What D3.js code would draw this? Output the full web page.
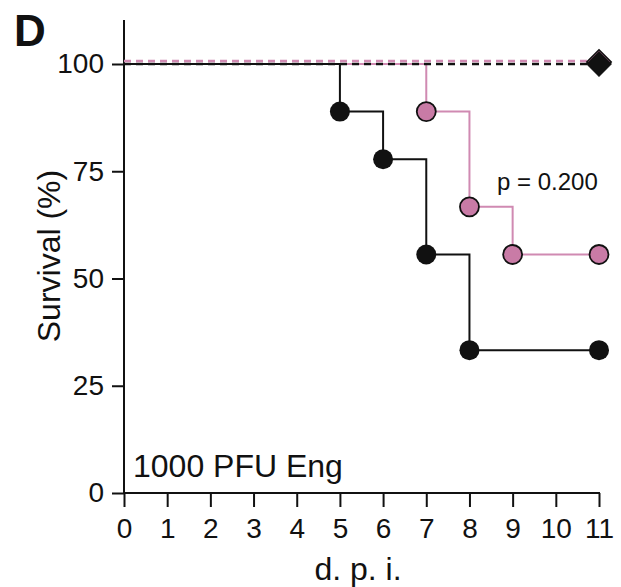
<!DOCTYPE html>
<html><head><meta charset="utf-8">
<script src="https://cdn.jsdelivr.net/npm/d3@7"></script>
<style>body{margin:0;background:#fff}text{font-family:"Liberation Sans",Arial,sans-serif;fill:#111}</style>
</head><body><svg id="c" width="621" height="587"></svg>
<script>
const xTicks = [0,1,2,3,4,5,6,7,8,9,10,11];
const yTicks = [0,25,50,75,100];
const infectedDays = [0,5,6,7,8,11];
const infectedSurv = [100,88.9,77.8,55.6,33.3,33.3];
const infectedMarks = [5,6,7,8,11];
const treatedDays = [0,7,8,9,11];
const treatedSurv = [100,88.9,66.7,55.6,55.6];
const treatedMarks = [7,8,9,11];
const mockDays = [0,11];
const mockSurv = [100,100];
const pinkC = "#c97ba6", pinkL = "#d08ab2", blackC = "#111";

const svg = d3.select("#c");
const x = d3.scaleLinear().domain([0,11]).range([124,599]);
const y = d3.scaleLinear().domain([0,100]).range([493,64]);

// axes
const xa = svg.append("g").attr("transform","translate(0,493)")
  .call(d3.axisBottom(x).tickValues(xTicks).tickSize(14).tickSizeOuter(0).tickPadding(11));
const ya = svg.append("g").attr("transform","translate(124,0)")
  .call(d3.axisLeft(y).tickValues(yTicks).tickSize(12).tickSizeOuter(0).tickPadding(8));
[xa,ya].forEach(a=>{a.select(".domain").remove();a.selectAll("line").attr("stroke",blackC).attr("stroke-width",2);
  a.selectAll("text").attr("font-size",28).attr("fill","#111");});
svg.append("line").attr("x1",124).attr("x2",124).attr("y1",20).attr("y2",494).attr("stroke",blackC).attr("stroke-width",2);
svg.append("line").attr("x1",123).attr("x2",600).attr("y1",493).attr("y2",493).attr("stroke",blackC).attr("stroke-width",2);

const step = d3.line().x(d=>x(d[0])).y(d=>y(d[1])).curve(d3.curveStepAfter);
const zip = (a,b)=>a.map((v,i)=>[v,b[i]]);

svg.append("path").attr("d",step(zip(treatedDays,treatedSurv))).attr("fill","none").attr("stroke",pinkL).attr("stroke-width",2);
svg.append("path").attr("d",step(zip(infectedDays,infectedSurv))).attr("fill","none").attr("stroke",blackC).attr("stroke-width",2);
svg.append("path").attr("d",step(zip(mockDays,mockSurv))).attr("fill","none").attr("stroke",blackC).attr("stroke-width",2.6).attr("stroke-dasharray","7,5");
svg.append("path").attr("transform","translate(0,-3)").attr("d",step(zip(mockDays,mockSurv))).attr("fill","none").attr("stroke",pinkL).attr("stroke-width",2.6).attr("stroke-dasharray","7,5");

// diamonds for mock
const dia = d3.symbol().type(d3.symbolSquare).size(300);
svg.append("path").attr("d",dia()).attr("transform",`translate(${x(11)},${y(100)-2}) rotate(45)`).attr("fill",pinkC).attr("stroke",blackC).attr("stroke-width",1.5);
svg.append("path").attr("d",dia()).attr("transform",`translate(${x(11)},${y(100)}) rotate(45)`).attr("fill",blackC).attr("stroke",blackC).attr("stroke-width",1);

const lookup = (days,surv,d)=>{let v=surv[0];days.forEach((dd,i)=>{if(dd<=d)v=surv[i];});return v;};
svg.selectAll(".bm").data(infectedMarks).enter().append("circle")
  .attr("cx",d=>x(d)).attr("cy",d=>y(lookup(infectedDays,infectedSurv,d))).attr("r",10).attr("fill",blackC);
svg.selectAll(".pm").data(treatedMarks).enter().append("circle")
  .attr("cx",d=>x(d)).attr("cy",d=>y(lookup(treatedDays,treatedSurv,d))).attr("r",9.5).attr("fill",pinkC).attr("stroke",blackC).attr("stroke-width",1.8);

// texts
svg.append("text").attr("x",14).attr("y",46).attr("font-size",44).attr("font-weight","bold").text("D");
svg.append("text").attr("x",358).attr("y",580).attr("text-anchor","middle").attr("font-size",32).text("d. p. i.");
svg.append("text").attr("transform","translate(60,256) rotate(-90)").attr("text-anchor","middle").attr("font-size",32).text("Survival (%)");
svg.append("text").attr("x",133).attr("y",477).attr("font-size",32).text("1000 PFU Eng");
svg.append("text").attr("x",497).attr("y",190).attr("font-size",24).text("p = 0.200");
</script></body></html>
